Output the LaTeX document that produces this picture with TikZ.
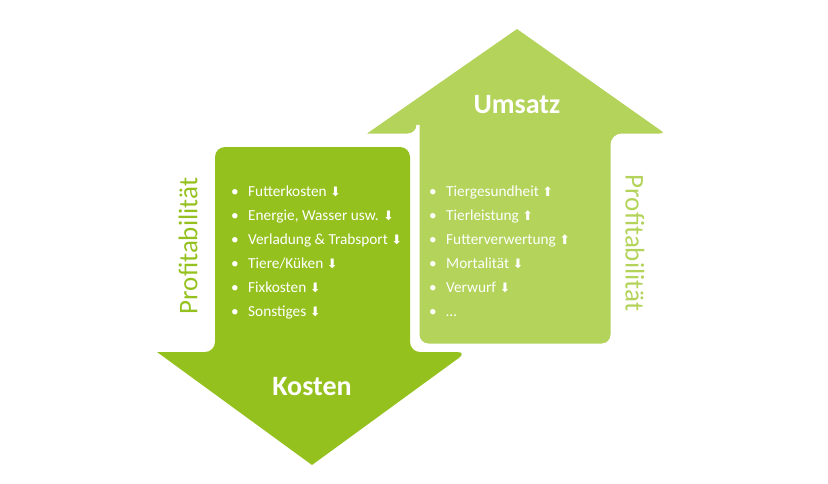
\documentclass[tikz,border=0pt]{standalone}
\usepackage{fontspec}
\setmainfont{Carlito}
\newfontfamily\symf{DejaVu Sans}
\definecolor{dg}{HTML}{95C11F}
\definecolor{lg}{HTML}{B3D35A}
\begin{document}
\begin{tikzpicture}[x=1pt,y=-1pt,
  item/.style={anchor=base west,text=white,font=\fontsize{15.3}{17}\selectfont,inner sep=0},
  big/.style={text=white,font=\bfseries\fontsize{28}{32}\selectfont},
  prof/.style={font=\fontsize{27}{30}\selectfont}]
\useasboundingbox (0,0) rectangle (828,483);
% Kosten arrow
\fill[dg,rounded corners=10] (215,352) -- (215,147) -- (410,147) -- (410,352) -- (467,352) [sharp corners]-- (312,465) -- (157,352) [rounded corners=10]-- (215,352) -- cycle;
% Umsatz arrow
\fill[lg,draw=white,line width=3,rounded corners=10] (418,135) -- (418,345) -- (612,345) -- (612,135) -- (670,135) [sharp corners]-- (517,27) -- (362,135) [rounded corners=10]-- (418,135) -- cycle;
\node[big] (u) at (517,105) {Umsatz};
\node[big] (k) at (312,387) {Kosten};
\newcommand\dn{{\symf\fontsize{13}{14}\selectfont ⬇}}
\newcommand\up{{\symf\fontsize{13}{14}\selectfont ⬆}}
\foreach \t [count=\i] in {Futterkosten \dn,{Energie, Wasser usw. \dn},Verladung \& Trabsport \dn,Tiere/Küken \dn,Fixkosten \dn,Sonstiges \dn}{
  \node[item] (l\i) at (248,196+24*\i-24) {\t};
  \node[item,anchor=base] (lb\i) at (235,196+24*\i-24) {•};}
\foreach \t [count=\i] in {Tiergesundheit \up,Tierleistung \up,Futterverwertung \up,Mortalität \dn,Verwurf \dn,…}{
  \node[item] (r\i) at (446,196+24*\i-24) {\t};
  \node[item,anchor=base] (rb\i) at (433,196+24*\i-24) {•};}
\node[prof,text=dg,rotate=90] (pl) at (188,246) {Profitabilität};
\node[prof,text=lg,rotate=-90] (pr) at (635,243) {Profitabilität};
\end{tikzpicture}
\end{document}
